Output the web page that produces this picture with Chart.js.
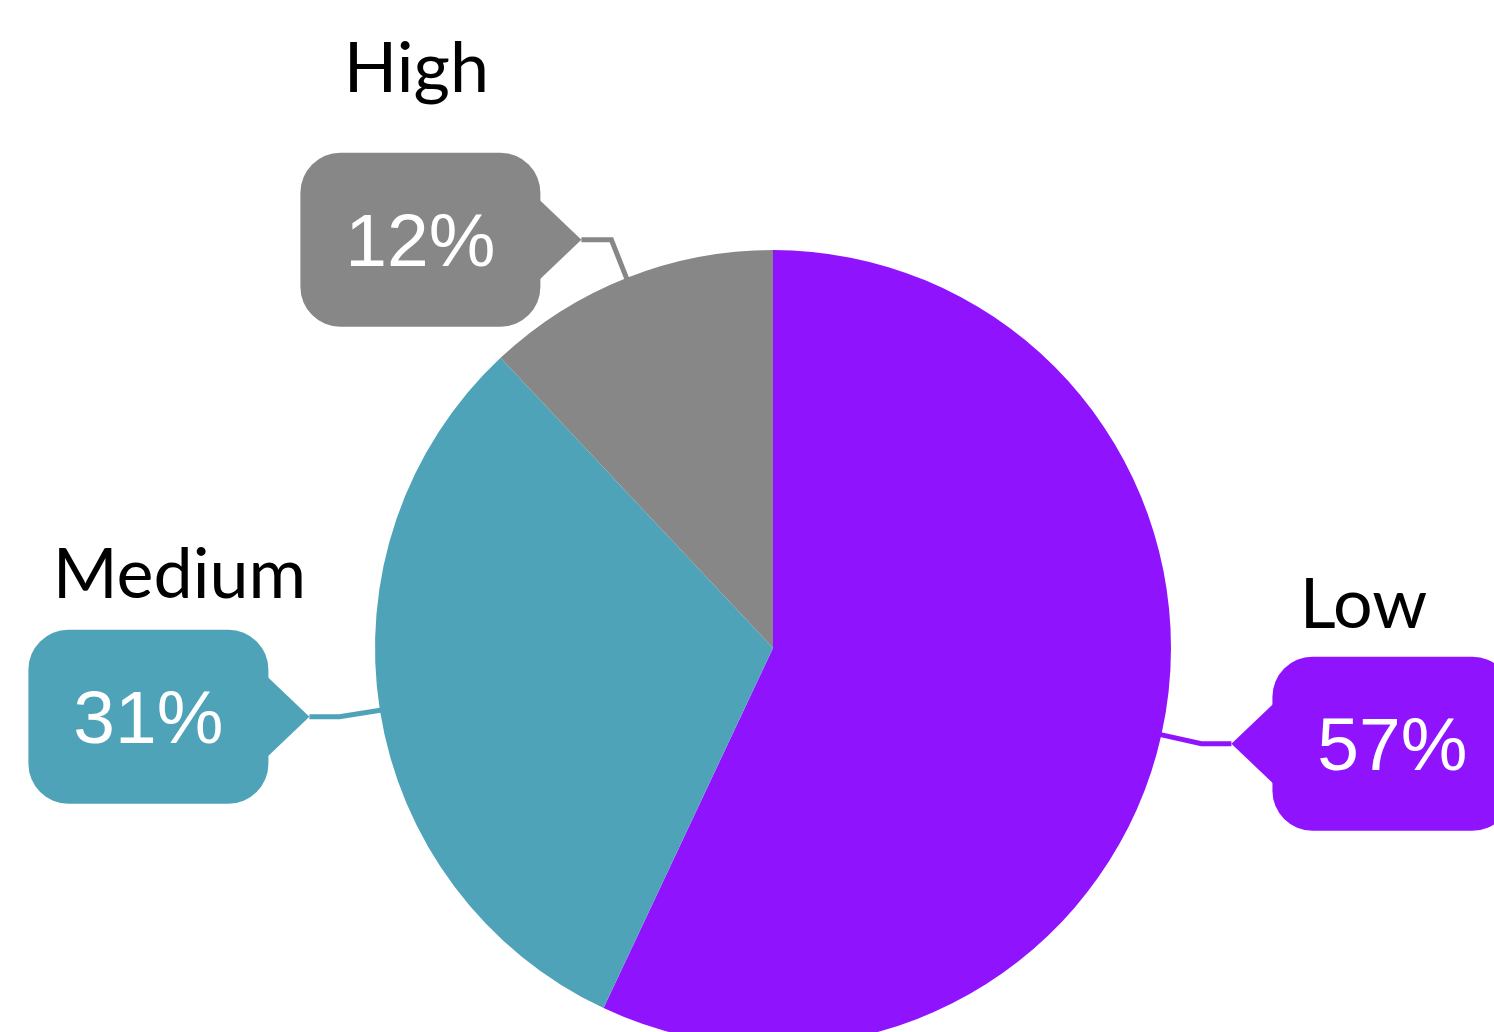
<!DOCTYPE html>
<html>
<head>
<meta charset="utf-8">
<title>Riesgo</title>
<script src="https://cdn.jsdelivr.net/npm/chart.js@4.4.1/dist/chart.umd.min.js"></script>
<style>
  html, body { margin: 0; padding: 0; background: #fff; overflow: hidden; }
  #wrap { position: relative; width: 1494px; height: 1100px; }
</style>
</head>
<body>
<div id="wrap"><canvas id="cRiesgo"></canvas></div>
<script>
// ── Datos ─────────────────────────────────────────────────────────
const categorias  = ['Low', 'Medium', 'High'];
const porcentajes = [57, 31, 12];
const colores     = ['#9013FE', '#4FA3B8', '#878787'];

// desplazamiento del rotulo (centro x, linea base y) respecto del globo
const rotulos = [
  { dx: -29, dy: -116 },
  { dx:  31, dy: -119 },
  { dx:  -4, dy: -148 },
];

// ── Globos con porcentaje y linea guia ────────────────────────────
const globos = {
  id: 'globos',
  afterDatasetsDraw(chart) {
    const ctx = chart.ctx;
    const W = 240, H = 174, R = 40, PUNTA = 41, MEDIA = 40;
    chart.getDatasetMeta(0).data.forEach((arc, i) => {
      const { x, y, startAngle, endAngle, outerRadius } =
        arc.getProps(['x', 'y', 'startAngle', 'endAngle', 'outerRadius'], true);
      const mid = (startAngle + endAngle) / 2;
      const ex = x + Math.cos(mid) * (outerRadius - 2);
      const ey = y + Math.sin(mid) * (outerRadius - 2);
      const kx = x + Math.cos(mid) * (outerRadius + 41);
      const ky = y + Math.sin(mid) * (outerRadius + 41);
      const lado = Math.cos(mid) >= 0 ? 1 : -1;
      const tx = kx + lado * 30, ty = ky;

      ctx.save();
      ctx.strokeStyle = colores[i];
      ctx.lineWidth = 5;
      ctx.lineJoin = 'miter';
      ctx.beginPath();
      ctx.moveTo(ex, ey);
      ctx.lineTo(kx, ky);
      ctx.lineTo(tx, ty);
      ctx.stroke();

      const bx = lado > 0 ? tx + PUNTA : tx - PUNTA - W;
      const by = ty - H / 2;
      ctx.fillStyle = colores[i];
      ctx.beginPath();
      ctx.roundRect(bx, by, W, H, R);
      ctx.fill();

      const borde = lado > 0 ? bx + 1 : bx + W - 1;
      ctx.beginPath();
      ctx.moveTo(tx, ty);
      ctx.lineTo(borde, ty - MEDIA);
      ctx.lineTo(borde, ty + MEDIA);
      ctx.closePath();
      ctx.fill();

      const cx = bx + W / 2;
      ctx.fillStyle = '#fff';
      ctx.font = '75px "Liberation Sans", Arial, sans-serif';
      ctx.textAlign = 'center';
      ctx.textBaseline = 'alphabetic';
      ctx.fillText(porcentajes[i] + '%', cx, ty + 26);

      ctx.fillStyle = '#000';
      ctx.font = '70px Lato, sans-serif';
      ctx.fillText(categorias[i], cx + rotulos[i].dx, ty + rotulos[i].dy);
      ctx.restore();
    });
  },
};

// ── Grafico de torta ──────────────────────────────────────────────
new Chart(document.getElementById('cRiesgo'), {
  type: 'pie',
  data: {
    labels: categorias,
    datasets: [{
      data: porcentajes,
      backgroundColor: colores,
      borderWidth: 0,
      hoverOffset: 0,
    }],
  },
  options: {
    responsive: true, maintainAspectRatio: false,
    animation: false,
    layout: { padding: { top: 250, bottom: 54, left: 375, right: 323 } },
    plugins: {
      legend: { display: false },
      tooltip: { enabled: false },
    },
  },
  plugins: [globos],
});
</script>
</body>
</html>
